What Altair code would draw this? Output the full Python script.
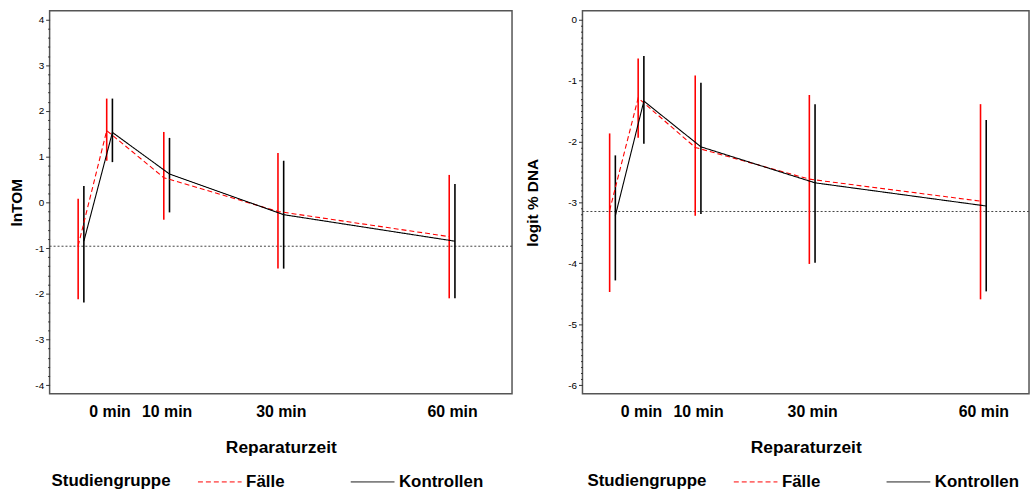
import altair as alt
import pandas as pd

# Measurement times (baseline shown at -5 without label)
times = [-5, 0, 10, 30, 60]
tick_times = [0, 10, 30, 60]
groups = ["Fälle", "Kontrollen"]
group_shift = [-0.5, 0.5]
group_colors = ["#ff0000", "#000000"]
group_dash = [[5, 3], [1, 0]]

# Panel 1: lnTOM
tom_f_mean = [-0.95, 1.57, 0.54, -0.20, -0.75]
tom_f_lo = [-2.12, 0.91, -0.38, -1.45, -2.10]
tom_f_hi = [0.08, 2.27, 1.54, 1.08, 0.60]
tom_k_mean = [-0.85, 1.53, 0.62, -0.27, -0.85]
tom_k_lo = [-2.19, 0.88, -0.22, -1.45, -2.10]
tom_k_hi = [0.36, 2.27, 1.41, 0.91, 0.40]
tom_ref = -0.96

# Panel 2: logit % DNA
dna_f_mean = [-3.13, -1.29, -2.10, -2.62, -2.98]
dna_f_lo = [-4.47, -1.94, -3.22, -4.01, -4.59]
dna_f_hi = [-1.87, -0.64, -0.92, -1.24, -1.39]
dna_k_mean = [-3.22, -1.34, -2.09, -2.68, -3.06]
dna_k_lo = [-4.28, -2.04, -3.19, -3.99, -4.46]
dna_k_hi = [-2.23, -0.60, -1.04, -1.39, -1.65]
dna_ref = -3.15

FONT = "Liberation Sans"


def make_df(fm, fl, fh, km, kl, kh):
    rows = []
    for g, s, m, lo, hi in [(groups[0], group_shift[0], fm, fl, fh),
                            (groups[1], group_shift[1], km, kl, kh)]:
        for t, mv, l, h in zip(times, m, lo, hi):
            rows.append({"t": t + s, "Studiengruppe": g, "mean": mv, "lo": l, "hi": h})
    return pd.DataFrame(rows)


def panel(df, ref, ymin, ymax, ypad, minor_step, ytitle, title_pad, xdomain, width, legend_x):
    n = int(round((ymax - ymin) / minor_step))
    yvals = [round(ymin + minor_step * i, 1) for i in range(n + 1)]
    is_major = "abs(datum.value - round(datum.value)) < 0.001"
    xaxis = alt.Axis(
        values=tick_times, labelExpr="datum.value + ' min'", title="Reparaturzeit",
        ticks=False, domain=False, grid=False, labelFontSize=16, labelFontWeight="bold",
        labelPadding=10, labelColor="#000", titleFontSize=17.5, titleFontWeight="bold",
        titlePadding=19, titleColor="#000", labelFlush=False, labelOverlap=False,
    )
    xscale = alt.Scale(domain=xdomain, nice=False, zero=False)
    yaxis = alt.Axis(
        values=yvals,
        labelExpr=is_major + " ? ((datum.value < -0.001 ? '-' : '') + abs(round(datum.value))) : ''",
        tickSize={"condition": {"test": is_major, "value": 4}, "value": 2},
        tickColor="#333", tickWidth=1, ticks=True, domain=False, grid=False,
        labelFontSize=10, labelColor="#000",
        labelPadding=2, title=ytitle, titleFontSize=15.5, titleFontWeight="bold",
        titleColor="#000", titlePadding=title_pad, labelOverlap=False, labelFlush=False,
        labelBound=False,
    )
    yscale = alt.Scale(domain=[ymin - ypad, ymax + ypad], nice=False, zero=False)
    leg = alt.Legend(
        orient="none", legendX=legend_x, legendY=452, direction="horizontal",
        titleOrient="left", titleBaseline="line-top", titleLineHeight=15,
        symbolType="stroke", symbolSize=1936, symbolStrokeWidth=1,
        labelFontSize=17, labelFontWeight="bold", labelColor="#000",
        titleFontSize=17, titleFontWeight="bold", titleColor="#000",
        columnPadding=64, titlePadding=27, labelOffset=4,
    )
    color = alt.Color("Studiengruppe:N", scale=alt.Scale(domain=groups, range=group_colors), legend=leg)
    dash = alt.StrokeDash("Studiengruppe:N", scale=alt.Scale(domain=groups, range=group_dash), legend=leg)

    base = alt.Chart(df)
    refline = alt.Chart(pd.DataFrame({"ref": [ref]})).mark_rule(
        color="#444", strokeDash=[2, 2], strokeWidth=1
    ).encode(y=alt.Y("ref:Q", scale=yscale, axis=yaxis))
    ci = base.mark_rule(strokeWidth=1.6).encode(
        x=alt.X("t:Q", scale=xscale, axis=xaxis),
        y=alt.Y("lo:Q", scale=yscale, axis=yaxis), y2="hi:Q", color=color
    )
    lines = base.mark_line(strokeWidth=1.1).encode(
        x=alt.X("t:Q", scale=xscale, axis=xaxis),
        y=alt.Y("mean:Q", scale=yscale, axis=yaxis),
        color=color, strokeDash=dash,
    )
    return alt.layer(refline, ci, lines).properties(width=width, height=386)


df_tom = make_df(tom_f_mean, tom_f_lo, tom_f_hi, tom_k_mean, tom_k_lo, tom_k_hi)
df_dna = make_df(dna_f_mean, dna_f_lo, dna_f_hi, dna_k_mean, dna_k_lo, dna_k_hi)

left = panel(df_tom, tom_ref, -4, 4, 0.19, 0.2, "lnTOM", 10, [-10.5, 70.5], 466, 2)
right = panel(df_dna, dna_ref, -6, 0, 0.14, 0.1, "logit % DNA", 27, [-10.26, 68.0], 450, 5)

chart = alt.hconcat(left, right, spacing=11).resolve_legend(
    color="independent", strokeDash="independent"
).properties(
    padding={"left": 9, "top": 8, "right": 0, "bottom": 0}
).configure(font=FONT).configure_view(stroke="#555", strokeWidth=1.5)

chart.save("out.html", embed_options={"renderer": "svg", "actions": False})
